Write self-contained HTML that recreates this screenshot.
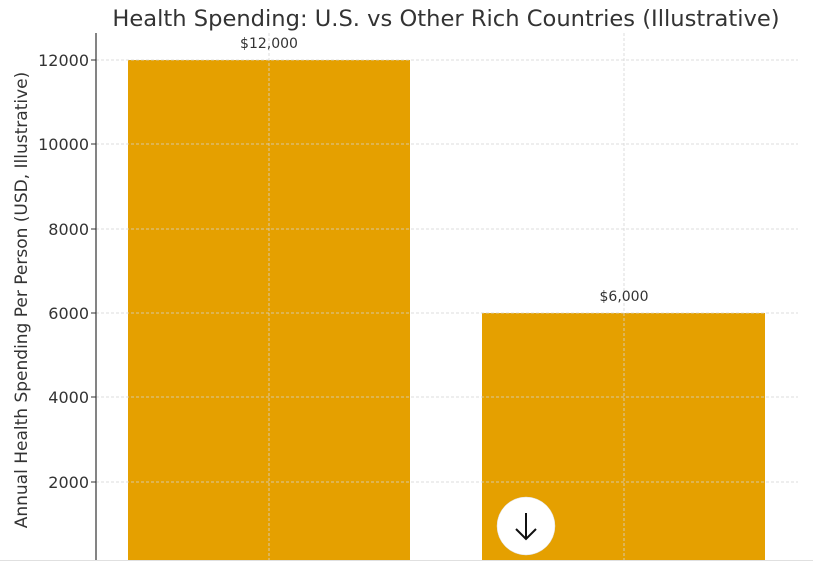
<!DOCTYPE html>
<html><head><style>body{margin:0;background:#fff}svg{display:block}</style></head>
<body>
<svg width="813" height="582" xmlns="http://www.w3.org/2000/svg" font-family="DejaVu Sans, Liberation Sans, sans-serif">
<rect width="813" height="582" fill="#fff"/>
<text x="446" y="26" text-anchor="middle" font-size="22.6" fill="#333">Health Spending: U.S. vs Other Rich Countries (Illustrative)</text>
<rect x="128" y="60" width="282" height="500" fill="#E5A000"/>
<rect x="482" y="313" width="283" height="247" fill="#E5A000"/>
<g stroke="#d4d4d4" stroke-width="0.8" stroke-dasharray="3,2">
<line x1="96" x2="798" y1="60" y2="60"/>
<line x1="96" x2="798" y1="144" y2="144"/>
<line x1="96" x2="798" y1="229" y2="229"/>
<line x1="96" x2="798" y1="313" y2="313"/>
<line x1="96" x2="798" y1="397" y2="397"/>
<line x1="96" x2="798" y1="482" y2="482"/>
<line x1="269" x2="269" y1="33" y2="560"/>
<line x1="624" x2="624" y1="33" y2="560"/>
</g>
<line x1="96" x2="96" y1="33" y2="560" stroke="#333" stroke-width="1.2"/>
<g stroke="#333"><line x1="91" x2="96" y1="60" y2="60"/><line x1="91" x2="96" y1="144" y2="144"/><line x1="91" x2="96" y1="229" y2="229"/><line x1="91" x2="96" y1="313" y2="313"/><line x1="91" x2="96" y1="397" y2="397"/><line x1="91" x2="96" y1="482" y2="482"/></g>
<g font-size="16" fill="#333" text-anchor="end">
<text x="89" y="66">12000</text><text x="89" y="150">10000</text><text x="89" y="235">8000</text><text x="89" y="319">6000</text><text x="89" y="403">4000</text><text x="89" y="488">2000</text>
</g>
<g font-size="14" fill="#333" text-anchor="middle"><text x="269" y="48">$12,000</text><text x="624" y="301">$6,000</text></g>
<text transform="translate(27,300) rotate(-90)" text-anchor="middle" font-size="17" fill="#333">Annual Health Spending Per Person (USD, Illustrative)</text>
<line x1="0" x2="813" y1="560.5" y2="560.5" stroke="#e0e0e0"/>
<circle cx="526" cy="526" r="29" fill="#fff" stroke="#ddd" stroke-width="0.5"/>
<path d="M526 513 V539 M516 529 L526 539 L536 529" stroke="#111" stroke-width="2" fill="none"/>
</svg>
</body></html>
